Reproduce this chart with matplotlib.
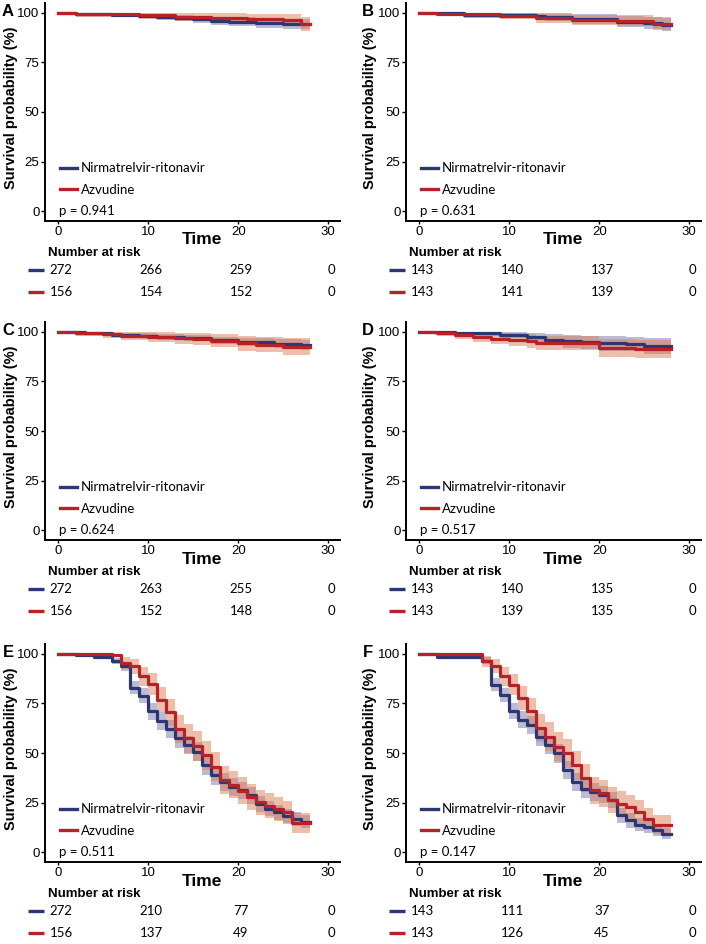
import numpy as np
import matplotlib.pyplot as plt
from matplotlib.lines import Line2D
from matplotlib import transforms

# ---- data (survival %, value held from day i to i+1) ----
days = list(range(29))
risk_times = [0, 10, 20, 30]
groups = ['Nirmatrelvir-ritonavir', 'Azvudine']

A_nr = [100, 100, 99.6, 99.6, 99.3, 99.3, 99.0, 99.0, 99.0, 98.5, 98.5, 98.0, 98.0, 97.4, 97.4,
        96.7, 96.7, 96.0, 96.0, 95.6, 95.6, 95.6, 94.9, 94.9, 94.9, 94.4, 94.4, 94.4, 94.4]
A_nr_ci = [0, 0, 0.6, 0.6, 0.8, 0.8, 1.0, 1.0, 1.0, 1.2, 1.2, 1.4, 1.4, 1.6, 1.6,
           1.8, 1.8, 2.0, 2.0, 2.1, 2.1, 2.1, 2.3, 2.3, 2.3, 2.5, 2.5, 2.5, 2.5]
A_az = [100, 100, 99.3, 99.3, 99.3, 99.3, 99.3, 99.3, 99.3, 98.7, 98.7, 98.7, 98.7, 97.9, 97.9,
        97.9, 97.9, 97.4, 97.4, 97.4, 97.4, 97.0, 97.0, 97.0, 97.0, 96.5, 96.5, 94.6, 94.6]
A_az_ci = [0, 0, 1.2, 1.2, 1.2, 1.2, 1.2, 1.2, 1.2, 1.6, 1.6, 1.6, 1.6, 2.1, 2.1,
           2.1, 2.1, 2.4, 2.4, 2.4, 2.4, 2.6, 2.6, 2.6, 2.6, 2.9, 2.9, 3.5, 3.5]
A_risk_nr = [272, 266, 259, 0]
A_risk_az = [156, 154, 152, 0]

B_nr = [100, 100, 100, 100, 100, 99.0, 99.0, 99.0, 99.0, 99.0, 99.0, 99.0, 99.0, 98.5, 97.8,
        97.8, 97.8, 96.8, 96.8, 96.8, 96.8, 96.8, 95.6, 95.6, 95.6, 95.0, 95.0, 94.0, 94.0]
B_nr_ci = [0, 0, 0, 0, 0, 1.4, 1.4, 1.4, 1.4, 1.4, 1.4, 1.4, 1.4, 1.7, 2.0,
           2.0, 2.0, 2.4, 2.4, 2.4, 2.4, 2.4, 2.8, 2.8, 2.8, 3.0, 3.0, 3.3, 3.3]
B_az = [100, 100, 99.3, 99.3, 99.3, 99.3, 99.3, 99.3, 99.3, 98.6, 98.6, 98.6, 98.6, 97.3, 97.3,
        97.3, 97.3, 96.5, 96.5, 96.5, 96.5, 96.5, 96.0, 96.0, 96.0, 96.0, 94.6, 94.6, 94.6]
B_az_ci = [0, 0, 1.0, 1.0, 1.0, 1.0, 1.0, 1.0, 1.0, 1.6, 1.6, 1.6, 1.6, 2.3, 2.3,
           2.3, 2.3, 2.6, 2.6, 2.6, 2.6, 2.6, 2.8, 2.8, 2.8, 2.8, 3.3, 3.3, 3.3]
B_risk_nr = [143, 140, 137, 0]
B_risk_az = [143, 141, 139, 0]

C_nr = [100, 100, 100, 99.5, 99.2, 99.2, 98.6, 98.6, 98.6, 98.1, 98.1, 97.5, 97.5, 97.5, 97.0,
        97.0, 97.0, 95.8, 95.8, 95.8, 94.8, 94.8, 94.8, 94.8, 94.0, 94.0, 94.0, 93.4, 93.4]
C_nr_ci = [0, 0, 0, 0.6, 0.8, 0.8, 1.0, 1.0, 1.0, 1.2, 1.2, 1.4, 1.4, 1.4, 1.5,
           1.5, 1.5, 1.8, 1.8, 1.8, 2.0, 2.0, 2.0, 2.0, 2.2, 2.2, 2.2, 2.4, 2.4]
C_az = [100, 100, 99.3, 99.3, 99.3, 98.8, 98.8, 98.0, 98.0, 98.0, 97.4, 97.4, 97.4, 96.8, 96.8,
        96.3, 96.3, 95.6, 95.6, 95.6, 94.3, 94.3, 93.6, 93.6, 93.6, 92.6, 92.6, 92.6, 92.6]
C_az_ci = [0, 0, 1.3, 1.3, 1.3, 1.7, 1.7, 2.2, 2.2, 2.2, 2.5, 2.5, 2.5, 2.8, 2.8,
           3.0, 3.0, 3.3, 3.3, 3.3, 3.7, 3.7, 3.9, 3.9, 3.9, 4.1, 4.1, 4.1, 4.1]
C_risk_nr = [272, 263, 255, 0]
C_risk_az = [156, 152, 148, 0]

D_nr = [100, 100, 100, 100, 99.3, 99.3, 99.3, 99.3, 99.3, 98.6, 98.6, 98.6, 97.3, 97.3, 96.1,
        96.1, 95.3, 95.3, 94.7, 94.7, 94.2, 94.2, 94.2, 93.9, 93.9, 93.0, 93.0, 93.0, 93.0]
D_nr_ci = [0, 0, 0, 0, 1.2, 1.2, 1.2, 1.2, 1.2, 1.7, 1.7, 1.7, 2.4, 2.4, 2.9,
           2.9, 3.2, 3.2, 3.4, 3.4, 3.6, 3.6, 3.6, 3.7, 3.7, 4.0, 4.0, 4.0, 4.0]
D_az = [100, 100, 99.2, 99.2, 98.3, 98.3, 97.3, 97.3, 96.6, 96.6, 96.1, 96.1, 95.3, 94.4, 94.4,
        94.4, 94.4, 94.4, 94.4, 94.4, 91.9, 91.9, 91.9, 91.9, 91.2, 91.2, 91.2, 91.2, 91.2]
D_az_ci = [0, 0, 1.4, 1.4, 2.0, 2.0, 2.6, 2.6, 2.9, 2.9, 3.1, 3.1, 3.4, 3.7, 3.7,
           3.7, 3.7, 3.7, 3.7, 3.7, 4.4, 4.4, 4.4, 4.4, 4.6, 4.6, 4.6, 4.6, 4.6]
D_risk_nr = [143, 140, 135, 0]
D_risk_az = [143, 139, 135, 0]

E_nr = [100, 100, 99.7, 99.7, 98.5, 98.5, 96.5, 93.7, 83.0, 79.0, 71.0, 66.0, 62.0, 57.4, 54.0,
        50.6, 43.8, 38.7, 35.4, 32.8, 31.1, 28.6, 24.4, 21.8, 20.1, 18.4, 16.8, 15.4, 15.4]
E_nr_ci = [0, 0, 0.4, 0.4, 0.9, 0.9, 1.5, 2.2, 3.4, 3.8, 4.3, 4.5, 4.6, 4.7, 4.7,
           4.8, 4.7, 4.6, 4.5, 4.4, 4.3, 4.2, 4.0, 3.8, 3.7, 3.5, 3.4, 3.3, 3.3]
E_az = [100, 100, 100, 100, 100, 100, 99.7, 95.4, 93.7, 88.7, 84.8, 76.8, 70.6, 62.2, 57.4,
        53.6, 48.9, 43.0, 36.2, 34.0, 31.0, 27.7, 25.2, 23.5, 21.8, 20.1, 14.6, 14.6, 14.6]
E_az_ci = [0, 0, 0, 0, 0, 0, 0.5, 3.0, 3.6, 4.8, 5.4, 6.3, 6.8, 7.2, 7.3,
           7.4, 7.4, 7.3, 7.1, 6.9, 6.8, 6.6, 6.3, 6.1, 5.9, 5.7, 5.0, 5.0, 5.0]
E_risk_nr = [272, 210, 77, 0]
E_risk_az = [156, 137, 49, 0]

F_nr = [100, 100, 98.3, 98.3, 98.3, 98.3, 98.3, 96.6, 84.5, 79.4, 71.0, 66.7, 64.2, 58.3, 54.0,
        49.8, 41.4, 35.5, 32.0, 30.4, 29.0, 26.2, 18.6, 16.0, 13.9, 12.7, 11.0, 9.3, 9.3]
F_nr_ci = [0, 0, 1.1, 1.1, 1.1, 1.1, 1.1, 1.6, 3.2, 3.5, 4.0, 4.3, 4.4, 4.6, 4.7,
           4.7, 4.7, 4.6, 4.5, 4.4, 4.3, 4.2, 3.8, 3.6, 3.3, 3.2, 3.0, 2.8, 2.8]
F_az = [100, 100, 100, 100, 100, 100, 100, 96.3, 93.8, 88.7, 84.5, 77.7, 71.0, 62.5, 58.3,
        53.2, 49.8, 43.9, 37.2, 31.3, 29.6, 26.2, 24.5, 22.8, 20.3, 16.9, 13.9, 13.9, 13.9]
F_az_ci = [0, 0, 0, 0, 0, 0, 0, 2.8, 3.6, 4.8, 5.4, 6.2, 6.7, 7.2, 7.3,
           7.4, 7.4, 7.3, 7.1, 6.8, 6.7, 6.5, 6.3, 6.1, 5.9, 5.5, 5.0, 5.0, 5.0]
F_risk_nr = [143, 111, 37, 0]
F_risk_az = [143, 126, 45, 0]

panels = [
    ('A', A_nr, A_nr_ci, A_az, A_az_ci, A_risk_nr, A_risk_az, '0.941'),
    ('B', B_nr, B_nr_ci, B_az, B_az_ci, B_risk_nr, B_risk_az, '0.631'),
    ('C', C_nr, C_nr_ci, C_az, C_az_ci, C_risk_nr, C_risk_az, '0.624'),
    ('D', D_nr, D_nr_ci, D_az, D_az_ci, D_risk_nr, D_risk_az, '0.517'),
    ('E', E_nr, E_nr_ci, E_az, E_az_ci, E_risk_nr, E_risk_az, '0.511'),
    ('F', F_nr, F_nr_ci, F_az, F_az_ci, F_risk_nr, F_risk_az, '0.147'),
]

# ---- styling ----
nr_color = '#2C3772'
az_color = '#B52229'
nr_fill = '#4E4E93'
az_fill = '#DD7E55'
sans = 'Liberation Sans'
body = 'Lato'

W, H = 706, 944
fig = plt.figure(figsize=(W / 100, H / 100), dpi=100)

col_left = [45, 406]
row_bottom = [221, 540, 862]
ax_w, ax_h = 295, 218
letter_x = [8, 368]
ylab_x = [-0.115, -0.122]

for i, (letter, nr, nr_ci, az, az_ci, risk_nr, risk_az, pval) in enumerate(panels):
    r, c = divmod(i, 2)
    ax = fig.add_axes([col_left[c] / W, 1 - row_bottom[r] / H, ax_w / W, ax_h / H])

    nr = np.array(nr)
    az = np.array(az)
    ax.fill_between(days, nr - np.array(nr_ci), np.minimum(nr + np.array(nr_ci), 100),
                    step='post', color=nr_fill, alpha=0.38, lw=0)
    ax.fill_between(days, az - np.array(az_ci), np.minimum(az + np.array(az_ci), 100),
                    step='post', color=az_fill, alpha=0.5, lw=0)
    ax.step(days, nr, where='post', color=nr_color, lw=2.3)
    ax.step(days, az, where='post', color=az_color, lw=2.3)

    ax.set_xlim(-1.5, 31.3)
    ax.set_ylim(-5, 105)
    ax.set_xticks([0, 10, 20, 30])
    ax.set_yticks([0, 25, 50, 75, 100])
    for s in ['top', 'right']:
        ax.spines[s].set_visible(False)
    for s in ['left', 'bottom']:
        ax.spines[s].set_linewidth(1.4)
    ax.tick_params(axis='y', length=3, width=1, pad=1, labelsize=9.5)
    ax.tick_params(axis='x', length=2, width=1, pad=1.5, labelsize=9.5)
    for lab in ax.get_xticklabels() + ax.get_yticklabels():
        lab.set_family(sans)

    ax.set_ylabel('Survival probability (%)', fontsize=10.5, fontweight='bold',
                  family=sans, va='center')
    ax.yaxis.set_label_coords(ylab_x[c], 0.52)
    ax.set_xlabel('Time', fontsize=12.5, fontweight='bold', family=sans, va='center')
    ax.xaxis.set_label_coords(0.533, -19 / ax_h)

    handles = [Line2D([], [], color=nr_color, lw=2.4), Line2D([], [], color=az_color, lw=2.4)]
    ax.legend(handles, groups, loc='center left', bbox_to_anchor=(0.05, 0.192),
              frameon=False, handlelength=1.3, handletextpad=0.3, labelspacing=0.75,
              borderpad=0, borderaxespad=0, prop={'family': body, 'size': 9.5})
    ax.text(0.1, 0, 'p = ' + pval, fontsize=9.5, family=body, ha='left', va='center')

    blend = transforms.blended_transform_factory(fig.transFigure, ax.transData)
    fig.text(letter_x[c] / W, 100.5, letter, transform=blend, fontsize=12,
             fontweight='bold', family=sans, ha='center', va='center')

    # number at risk table
    xt = ax.get_xaxis_transform()
    ax.text(0.01, -32 / ax_h, 'Number at risk', transform=ax.transAxes, fontsize=9.5,
            fontweight='bold', family=sans, ha='left', va='center')
    for row_y, counts, colr in [(-49 / ax_h, risk_nr, nr_color), (-71 / ax_h, risk_az, az_color)]:
        ax.plot([-17 / ax_w, -1 / ax_w], [row_y, row_y], transform=ax.transAxes,
                color=colr, lw=2.4, clip_on=False, solid_capstyle='butt')
        for t, n in zip(risk_times, counts):
            ax.text(t + 0.3, row_y, str(n), transform=xt, fontsize=9.5, family=body,
                    ha='center', va='center')

fig.savefig('out.png', dpi=100)
